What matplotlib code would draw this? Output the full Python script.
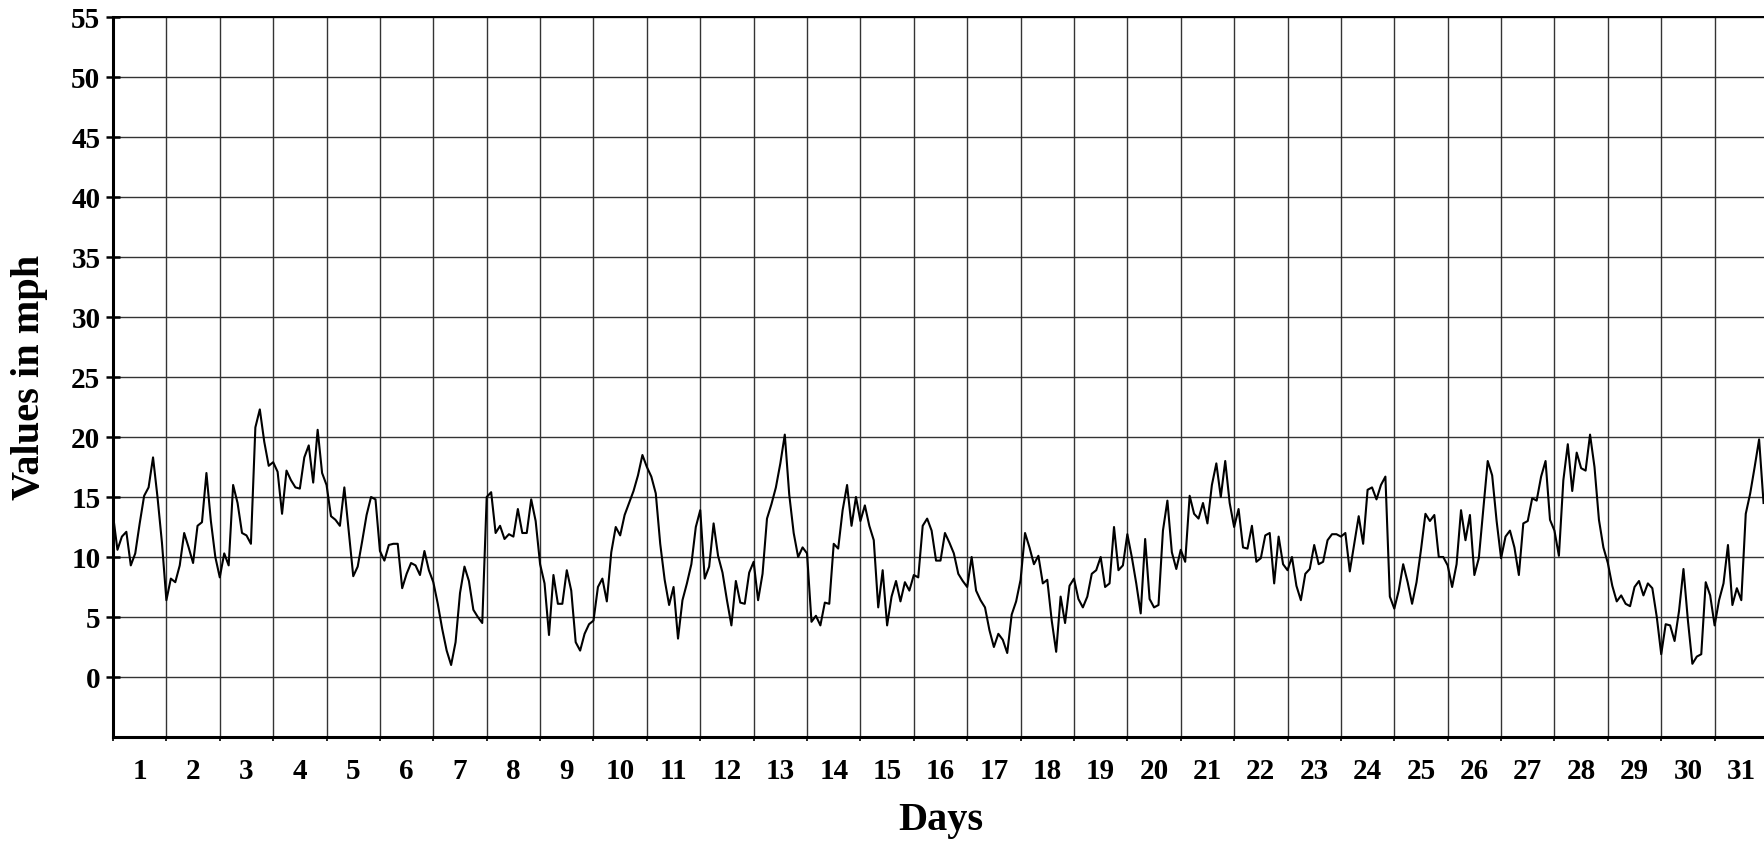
import numpy as np
import matplotlib
matplotlib.use("Agg")
import matplotlib.pyplot as plt

# wind speed read every 2 hours, one row per day
step_hours = 2
wind_2h = [
    [13.5, 10.6, 11.7, 12.1, 9.3, 10.3, 12.8, 15.1, 15.8, 18.3, 15.0, 11.2],
    [6.4, 8.2, 7.9, 9.3, 12.0, 10.8, 9.5, 12.6, 12.9, 17.0, 13.0, 10.0],
    [8.3, 10.3, 9.3, 16.0, 14.5, 12.0, 11.8, 11.1, 20.8, 22.3, 19.6, 17.6],
    [17.9, 17.1, 13.6, 17.2, 16.4, 15.8, 15.7, 18.3, 19.3, 16.2, 20.6, 17.0],
    [16.0, 13.4, 13.1, 12.6, 15.8, 12.1, 8.4, 9.2, 11.3, 13.5, 15.0, 14.8],
    [10.5, 9.7, 11.0, 11.1, 11.1, 7.4, 8.6, 9.5, 9.3, 8.5, 10.5, 8.9],
    [7.9, 6.1, 4.0, 2.2, 1.0, 2.9, 7.0, 9.2, 8.0, 5.6, 5.0, 4.5],
    [15.0, 15.4, 12.0, 12.6, 11.5, 11.9, 11.7, 14.0, 12.0, 12.0, 14.8, 13.0],
    [9.4, 7.8, 3.5, 8.5, 6.1, 6.1, 8.9, 7.2, 2.9, 2.2, 3.6, 4.4],
    [4.7, 7.5, 8.2, 6.3, 10.4, 12.5, 11.8, 13.5, 14.5, 15.5, 16.8, 18.5],
    [17.5, 16.7, 15.3, 11.1, 8.1, 6.0, 7.5, 3.2, 6.4, 7.8, 9.4, 12.5],
    [13.9, 8.2, 9.2, 12.8, 10.1, 8.7, 6.4, 4.3, 8.0, 6.2, 6.1, 8.7],
    [9.6, 6.4, 8.6, 13.2, 14.4, 15.8, 17.8, 20.2, 15.2, 12.0, 10.0, 10.8],
    [10.3, 4.6, 5.1, 4.3, 6.2, 6.1, 11.1, 10.7, 13.9, 16.0, 12.6, 15.0],
    [13.0, 14.3, 12.6, 11.4, 5.8, 8.9, 4.3, 6.7, 8.0, 6.3, 7.9, 7.2],
    [8.5, 8.3, 12.6, 13.2, 12.2, 9.7, 9.7, 12.0, 11.2, 10.3, 8.6, 8.0],
    [7.5, 10.0, 7.2, 6.4, 5.8, 3.9, 2.5, 3.6, 3.1, 2.0, 5.2, 6.3],
    [8.1, 12.0, 10.8, 9.4, 10.1, 7.8, 8.1, 4.7, 2.1, 6.7, 4.5, 7.6],
    [8.2, 6.5, 5.8, 6.7, 8.6, 8.9, 10.0, 7.5, 7.8, 12.5, 8.9, 9.3],
    [11.9, 10.0, 7.8, 5.3, 11.5, 6.5, 5.8, 6.0, 12.2, 14.7, 10.4, 9.0],
    [10.6, 9.6, 15.1, 13.6, 13.2, 14.5, 12.8, 16.0, 17.8, 15.0, 18.0, 14.5],
    [12.5, 14.0, 10.8, 10.7, 12.6, 9.6, 9.9, 11.8, 12.0, 7.8, 11.7, 9.4],
    [8.9, 10.0, 7.6, 6.4, 8.6, 9.0, 11.0, 9.4, 9.6, 11.4, 11.9, 11.9],
    [11.7, 12.0, 8.8, 11.1, 13.4, 11.1, 15.6, 15.8, 14.8, 16.0, 16.7, 6.7],
    [5.7, 7.2, 9.4, 7.9, 6.1, 7.9, 10.6, 13.6, 13.0, 13.5, 10.0, 10.0],
    [9.3, 7.5, 9.4, 13.9, 11.4, 13.5, 8.5, 9.9, 14.0, 18.0, 16.8, 13.0],
    [9.9, 11.7, 12.2, 10.8, 8.5, 12.8, 13.0, 14.9, 14.7, 16.7, 18.0, 13.1],
    [12.2, 10.1, 16.4, 19.4, 15.5, 18.7, 17.4, 17.2, 20.2, 17.5, 13.1, 10.8],
    [9.5, 7.6, 6.3, 6.8, 6.1, 5.9, 7.5, 8.0, 6.8, 7.8, 7.4, 5.0],
    [1.9, 4.4, 4.3, 3.0, 5.5, 9.0, 4.7, 1.1, 1.7, 1.9, 7.9, 6.8],
    [4.3, 6.4, 7.8, 11.0, 6.0, 7.4, 6.4, 13.6, 15.3, 17.5, 19.8, 14.5],
]
day_labels = [str(d) for d in range(1, 32)]
y_ticks = [0, 5, 10, 15, 20, 25, 30, 35, 40, 45, 50, 55]

plt.rcParams['font.family'] = ['Liberation Serif', 'DejaVu Serif']
plt.rcParams['font.weight'] = 'bold'

fig = plt.figure(figsize=(17.65, 8.41), dpi=100)
ax = fig.add_axes([113 / 1765, 1 - 737 / 841, 1655 / 1765, 720 / 841])

speed = np.array(wind_2h).ravel()
t_days = np.arange(speed.size) * step_hours / 24.0
ax.plot(t_days, speed, color='black', lw=1.5, zorder=3)

ax.set_xlim(0, len(day_labels))
ax.set_ylim(-5, 55)

ax.set_yticks(y_ticks)
ax.set_xticks(np.arange(0, len(day_labels) + 1))
ax.set_xticklabels([])
ax.set_xticks(np.arange(len(day_labels)) + 0.5, minor=True)
ax.set_xticklabels(day_labels, minor=True)

ax.tick_params(axis='x', which='major', direction='out', length=3, width=1.2)
ax.tick_params(axis='x', which='minor', length=0, pad=15, labelsize=21)
ax.tick_params(axis='y', direction='inout', length=10, width=1.8, labelsize=21, pad=4)

ax.grid(True, which='major', color='#333333', lw=1.0)
ax.set_axisbelow(True)

for s in ['left', 'bottom']:
    ax.spines[s].set_linewidth(2.2)
ax.spines['top'].set_linewidth(1.4)
ax.spines['right'].set_linewidth(1.4)

ax.set_xlabel('Days', fontsize=29, fontweight='bold')
ax.set_ylabel('Values in mph', fontsize=29, fontweight='bold')
ax.xaxis.set_label_coords(0.5, -0.09)
ax.yaxis.set_label_coords(-0.039, 0.5)

fig.savefig('out.png', dpi=100)
